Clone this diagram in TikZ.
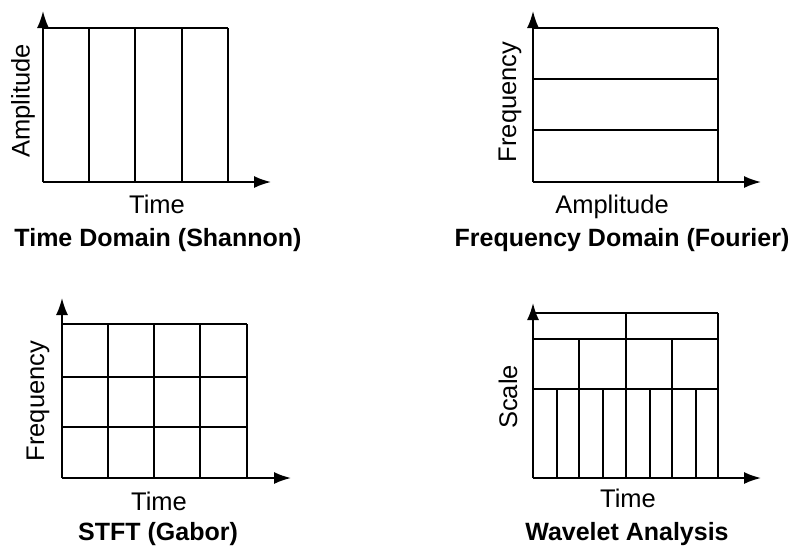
\documentclass[tikz,border=0pt]{standalone}
\usepackage{fontspec}
\setmainfont{Liberation Sans}
\usetikzlibrary{arrows.meta}

\begin{document}
\begin{tikzpicture}[
    x=1pt, y=-1pt,
    axis/.style={line width=1.8pt, -{Latex[length=17pt,width=12pt]}},
    cell/.style={line width=1.8pt},
    axlabel/.style={font=\fontsize{25.5}{28}\selectfont, inner sep=0pt},
    title/.style={font=\fontsize{25}{28}\selectfont\bfseries, inner sep=0pt, anchor=base}
]
    \useasboundingbox (0,0) rectangle (799,550);
    % Time domain (top left)
    \coordinate (o1) at (43,182);
    \coordinate (x1) at (271,182);
    \coordinate (y1) at (43,11);
    \draw[cell] (43,28) -- (228,28);
    \foreach \x in {89,135,182,228}
        \draw[cell] (\x,28) -- (\x,182);
    \draw[axis] (o1) -- (x1);
    \draw[axis] (o1) -- (y1);
    \node[axlabel, rotate=90] (amp1) at (23,101) {Amplitude};
    \node[axlabel, anchor=base] (time1) at (157,213) {Time};
    \node[title] (shannon) at (158,246) {Time Domain (Shannon)};
    % Frequency domain (top right)
    \coordinate (o2) at (533,182);
    \coordinate (x2) at (761,182);
    \coordinate (y2) at (533,11);
    \foreach \y in {28,79,130}
        \draw[cell] (533,\y) -- (718,\y);
    \draw[cell] (718,28) -- (718,182);
    \draw[axis] (o2) -- (x2);
    \draw[axis] (o2) -- (y2);
    \node[axlabel, rotate=90] (freq2) at (510,102) {Frequency};
    \node[axlabel, anchor=base] (amp2) at (612,213) {Amplitude};
    \node[title] (fourier) at (622,246) {Frequency Domain (Fourier)};
    % STFT (bottom left)
    \coordinate (o3) at (62,478);
    \coordinate (x3) at (291,478);
    \coordinate (y3) at (62,298);
    \foreach \y in {324,377,427}
        \draw[cell] (62,\y) -- (247,\y);
    \foreach \x in {108,154,200,247}
        \draw[cell] (\x,324) -- (\x,478);
    \draw[axis] (o3) -- (x3);
    \draw[axis] (o3) -- (y3);
    \node[axlabel, rotate=90] (freq3) at (38,401) {Frequency};
    \node[axlabel, anchor=base] (time3) at (159,510) {Time};
    \node[title] (gabor) at (158,540) {STFT (Gabor)};
    % Wavelet analysis (bottom right)
    \coordinate (o4) at (533,478);
    \coordinate (x4) at (761,478);
    \coordinate (y4) at (533,303);
    \foreach \y in {313,339,389}
        \draw[cell] (533,\y) -- (718,\y);
    \draw[cell] (718,313) -- (718,478);
    \draw[cell] (626,313) -- (626,339);
    \foreach \x in {579,626,672}
        \draw[cell] (\x,339) -- (\x,389);
    \foreach \x in {557,579,603,626,650,672,696}
        \draw[cell] (\x,389) -- (\x,478);
    \draw[axis] (o4) -- (x4);
    \draw[axis] (o4) -- (y4);
    \node[axlabel, rotate=90] (scale4) at (508,397) {Scale};
    \node[axlabel, anchor=base] (time4) at (628,507) {Time};
    \node[title] (wavelet) at (627,540) {Wavelet Analysis};
\end{tikzpicture}
\end{document}
